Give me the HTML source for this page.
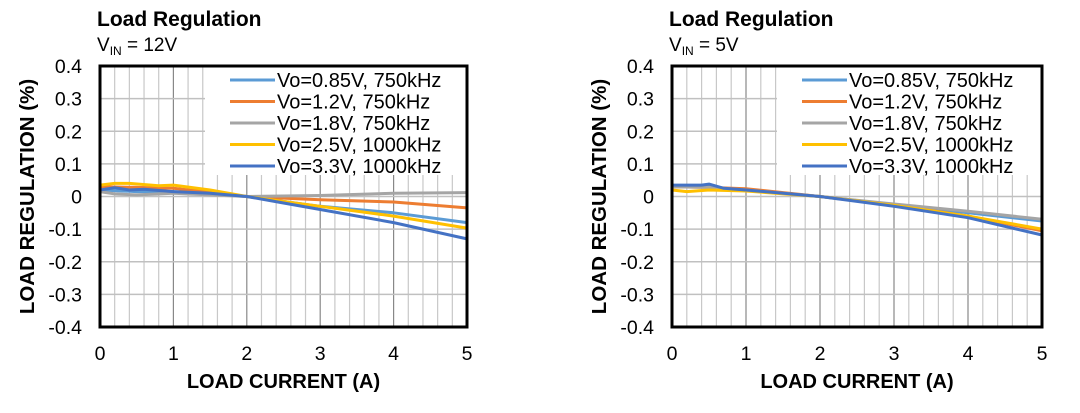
<!DOCTYPE html>
<html><head><meta charset="utf-8"><style>
body{margin:0;background:#fff;}
svg{display:block;font-family:"Liberation Sans",Arial,sans-serif;}
</style></head><body>
<svg id="c" width="1080" height="413"></svg>
<script>
const xTicks=[0,1,2,3,4,5];
const yTicks=[0.4,0.3,0.2,0.1,0,-0.1,-0.2,-0.3,-0.4];
const yTickLabels=["0.4","0.3","0.2","0.1","0","-0.1","-0.2","-0.3","-0.4"];
const seriesNames=["Vo=0.85V, 750kHz","Vo=1.2V, 750kHz","Vo=1.8V, 750kHz","Vo=2.5V, 1000kHz","Vo=3.3V, 1000kHz"];
const seriesColors=["#5b9bd5","#ed7d31","#a5a5a5","#ffc000","#4472c4"];
// Chart 1: VIN=12V
const c1x085=[0,0.5,1,2,3,4,5], c1y085=[0.02,0.015,0.015,0,-0.03,-0.05,-0.08];
const c1x12=[0,0.5,1,2,3,4,5], c1y12=[0.03,0.028,0.025,0,-0.01,-0.017,-0.035];
const c1x18=[0,0.2,0.5,1,2,3,4,5], c1y18=[0.015,0.008,0.005,0.01,0,0.003,0.01,0.012];
const c1x25=[0,0.2,0.4,0.8,1,1.5,2,3,4,5], c1y25=[0.035,0.04,0.04,0.033,0.035,0.02,0,-0.03,-0.06,-0.097];
const c1x33=[0,0.2,0.4,0.6,1,1.5,2,2.5,3,4,5], c1y33=[0.02,0.027,0.02,0.022,0.015,0.01,0,-0.02,-0.04,-0.08,-0.13];
// Chart 2: VIN=5V
const c2x085=[0,0.5,0.7,1,2,3,4,5], c2y085=[0.03,0.03,0.022,0.02,0,-0.025,-0.05,-0.075];
const c2x12=[0,0.5,1,2,3,4,5], c2y12=[0.03,0.028,0.024,0,-0.025,-0.06,-0.105];
const c2x18=[0,0.5,1,2,3,4,5], c2y18=[0.03,0.028,0.02,0,-0.023,-0.045,-0.07];
const c2x25=[0,0.2,0.5,1,2,3,4,5], c2y25=[0.02,0.015,0.02,0.017,0,-0.027,-0.06,-0.1];
const c2x33=[0,0.4,0.5,0.7,1,2,3,4,5], c2y33=[0.035,0.035,0.038,0.025,0.02,0,-0.03,-0.065,-0.118];

const NS="http://www.w3.org/2000/svg";
const svg=document.getElementById('c');
function el(t,a,p){const e=document.createElementNS(NS,t);for(const k in a)e.setAttribute(k,a[k]);(p||svg).appendChild(e);return e;}

function chart(ox,L,R,vin,xs,ys,legX){
  const T=66,B=327;
  const g=el('g',{});
  
  
  const sx=v=>L+(v-0)/(5-0)*(R-L);
  const sy=v=>T+(0.4-v)/0.8*(B-T);
  for(let v=0;v<=5.001;v+=0.2){const x=sx(v);
    const major=Math.abs(v-Math.round(v))<1e-6;
    const top=(x>legX-25)?175:T;
    const l=el('line',{x1:x,x2:x,y1:top,y2:B,stroke:major?'#888':'#c8c8c8','stroke-width':1.2},g);
    }
  yTicks.forEach(v=>{const y=sy(v);const right=(y<175)?legX-25:R;
    const l=el('line',{x1:L,x2:right,y1:y,y2:y,stroke:'#c0c0c0','stroke-width':1.4},g);
    });
  for(let i=0;i<5;i++){
    const d=xs[i].map((x,j)=>(j?'L':'M')+sx(x).toFixed(1)+','+sy(ys[i][j]).toFixed(1)).join('');
    const p=el('path',{d:d,fill:'none',stroke:seriesColors[i],'stroke-width':3,'stroke-linejoin':'round'},g);
    
    
  }
  const f=el('rect',{x:L,y:T,width:R-L,height:B-T,fill:'none',stroke:'#000','stroke-width':3},g);
  
  seriesNames.forEach((n,i)=>{const y=80+i*21.5;
    const ln=el('line',{x1:legX,x2:legX+45,y1:y,y2:y,stroke:seriesColors[i],'stroke-width':3},g);
    
    const t=el('text',{x:legX+47,y:y+7,'font-size':20,fill:'#000'},g);t.textContent=n;
    });
  yTicks.forEach((v,i)=>{const t=el('text',{x:L-18,y:sy(v)+7,'font-size':19.5,'text-anchor':'end'},g);t.textContent=yTickLabels[i];
    });
  xTicks.forEach(v=>{const t=el('text',{x:sx(v),y:360,'font-size':19.5,'text-anchor':'middle'},g);t.textContent=v;
    });
  const xt=el('text',{x:(L+R)/2,y:388,'font-size':20,'font-weight':'bold','text-anchor':'middle'},g);xt.textContent='LOAD CURRENT (A)';
  
  const ytx=L-66,yty=(T+B)/2;
  const yt=el('text',{x:ytx,y:yty,'font-size':20.5,'font-weight':'bold','text-anchor':'middle',transform:`rotate(-90 ${ytx} ${yty})`},g);yt.textContent='LOAD REGULATION (%)';
  
  const tt=el('text',{x:L-3,y:26,'font-size':21,'font-weight':'bold'},g);tt.textContent='Load Regulation';
  
  const st=el('text',{x:L-3,y:51,'font-size':19},g);
  
  const a=el('tspan',{},st);a.textContent='V';
  const b=el('tspan',{'font-size':12,dy:4},st);b.textContent='IN';
  const c=el('tspan',{dy:-4},st);c.textContent=' = '+vin;
}
chart(0,100,467,'12V',[c1x085,c1x12,c1x18,c1x25,c1x33],[c1y085,c1y12,c1y18,c1y25,c1y33],230);
chart(0,672,1042,'5V',[c2x085,c2x12,c2x18,c2x25,c2x33],[c2y085,c2y12,c2y18,c2y25,c2y33],802);
</script>
</body></html>
